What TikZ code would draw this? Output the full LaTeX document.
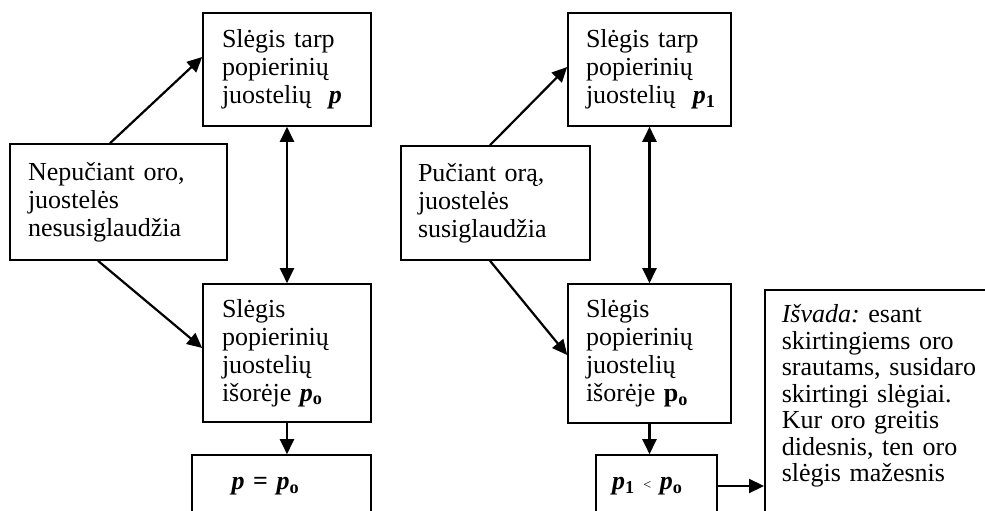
\documentclass[tikz,border=0pt]{standalone}
\usepackage{fontspec}
\setmainfont{Liberation Serif}
\usepackage{tikz}
\usetikzlibrary{arrows.meta}

\begin{document}
\begin{tikzpicture}[x=1pt,y=-1pt,
  box/.style={draw,line width=1.6pt,align=left,inner sep=0pt,font=\fontsize{26}{28}\selectfont},
  arr/.style={line width=2.2pt,-{Triangle[length=15pt,width=14pt]}},
  dbl/.style={line width=2.2pt,{Triangle[length=15pt,width=14pt]}-{Triangle[length=15pt,width=14pt]}}]
\clip (0,0) rectangle (985,511);

%left: no air flow
\node[box,minimum width=168pt,minimum height=113pt,text width=130pt] (tarpL) at (287,69.5) {Slėgis tarp\\popierinių\\juostelių~~\textbf{\textit{p}}};
\node[box,minimum width=217pt,minimum height=116pt,text width=181pt] (nepuc) at (118.5,202) {Nepučiant oro,\\juostelės\\nesusiglaudžia};
\node[box,minimum width=168pt,minimum height=138pt,text width=130pt] (isorL) at (287,353) {Slėgis\\popierinių\\juostelių\\išorėje \textbf{\textit{p}}\textsubscript{\textbf{o}}};
\node[box,minimum width=179pt,minimum height=62pt,text width=100pt] (lygu) at (281.5,486) {\textbf{\textit{p} = \textit{p}}\textsubscript{\textbf{o}}};
\draw[arr] ([xshift=-8.5pt]nepuc.north) -- ([yshift=12.5pt]tarpL.west);
\draw[arr] ([xshift=-20.5pt]nepuc.south) -- ([yshift=5pt]isorL.west);
\draw[dbl] (tarpL.south) -- (isorL.north);
\draw[arr] (isorL.south) -- (isorL.south |- lygu.north);

%right: air flow
\node[box,minimum width=163pt,minimum height=113pt,text width=127pt] (tarpR) at (649.5,69.5) {Slėgis tarp\\popierinių\\juostelių~~\textbf{\textit{p}}\textsubscript{\textbf{1}}};
\node[box,minimum width=189pt,minimum height=114pt,text width=155pt] (puc) at (495.5,203) {Pučiant orą,\\juostelės\\susiglaudžia};
\node[box,minimum width=163pt,minimum height=139pt,text width=127pt] (isorR) at (649.5,353.5) {Slėgis\\popierinių\\juostelių\\išorėje \textbf{p}\textsubscript{\textbf{o}}};
\node[box,minimum width=121pt,minimum height=62pt,text width=89pt] (maz) at (656.5,486) {\textbf{\textit{p}}\textsubscript{\textbf{1}}\,\,{\fontsize{14}{14}\selectfont <}\,\,\textbf{\textit{p}}\textsubscript{\textbf{o}}};
\draw[arr] ([xshift=-5.5pt]puc.north) -- ([yshift=2.5pt]tarpR.west);
\draw[arr] ([xshift=-5.5pt]puc.south) -- ([yshift=-1.5pt]isorR.west);
\draw[dbl] (tarpR.south) -- (isorR.north);
\draw[arr] (isorR.south) -- (isorR.south |- maz.north);

%conclusion
\node[box,anchor=north west,inner xsep=17pt,inner ysep=15pt,text width=206pt,font=\fontsize{26}{26.5}\selectfont] (isvada) at (764,289) {{\itshape Išvada:}\ esant\\skirtingiems oro\\srautams, susidaro\\skirtingi slėgiai.\\Kur oro greitis\\didesnis, ten oro\\slėgis mažesnis\rule[-40pt]{0pt}{40pt}};
\draw[arr] (maz.east) -- (maz.east -| isvada.west);

\end{tikzpicture}
\end{document}
